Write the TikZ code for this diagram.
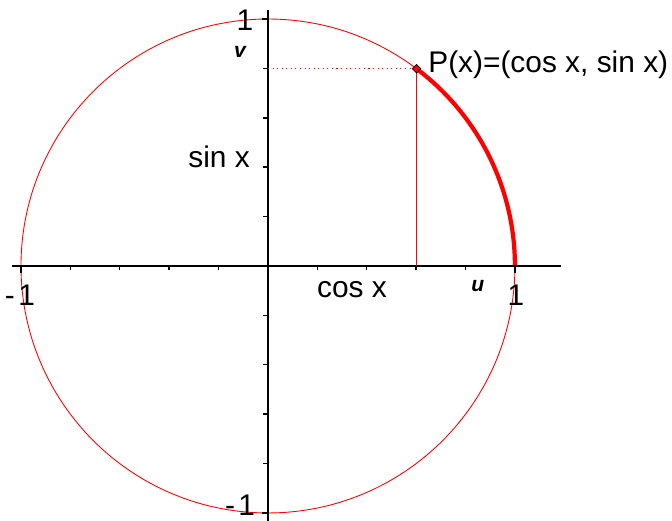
\documentclass[tikz,border=0pt]{standalone}
\usepackage{fontspec}
\setmainfont{Liberation Sans}
\usetikzlibrary{shapes.geometric}
\tikzset{
  lbl/.style={anchor=base, inner sep=0pt, font=\fontsize{17}{20}\selectfont},
  axlbl/.style={anchor=base, inner sep=0pt, font=\fontsize{12}{14}\selectfont\bfseries\itshape},
  pmark/.style={diamond, draw=black, fill=red, line width=0.4pt, inner sep=0pt, minimum size=5pt}
}
\begin{document}
\begin{tikzpicture}[x=4.94cm, y=4.94cm]
        \useasboundingbox (-1.085,-1.032) rectangle (1.636,1.077);

        % Coordinates
        \coordinate (O) at (0,0);
        \coordinate (P) at (53:1);
        \coordinate (Px) at (P |- O);
        \coordinate (Py) at (P -| O);
        \coordinate (XL) at (-1.036,0);
        \coordinate (XR) at (1.186,0);
        \coordinate (YT) at (0,1.036);
        \coordinate (YB) at (0,-1.032);

        % Drawing
        \draw[red, line width=0.5pt] (O) circle (1);
        \draw[red, line width=2.4pt] (1,0) arc (0:53:1);
        \draw[line width=0.8pt] (XL) -- (XR);
        \draw[line width=0.8pt] (YT) -- (YB);
        \foreach \i in {-4,...,4} {
            \draw[line width=0.8pt] (\i*0.2,0) -- (\i*0.2,-0.016);
            \draw[line width=0.8pt] (0,\i*0.2) -- (-0.02,\i*0.2);
        }
        \draw[line width=0.8pt] (-1,0) -- (-1,-0.03);
        \draw[line width=0.8pt] (1,0) -- (1,-0.03);
        \draw[line width=0.8pt] (0,1) -- (-0.025,1);
        \draw[line width=0.8pt] (0,-1) -- (-0.025,-1);
        \draw[red, dotted, line width=0.6pt] (Py) -- (P);
        \draw[red, line width=0.5pt] (P) -- (Px);
        \node[pmark] (mark) at (P) {};

        \node[lbl] (ytop) at (-0.093,0.955) {1};
        \node[lbl] (ybot) at (-0.113,-1.012) {-\hspace{2pt}1};
        \node[lbl] (xleft) at (-1.004,-0.158) {-\hspace{2pt}1};
        \node[lbl] (xright) at (1.004,-0.158) {1};
        \node[lbl] (sinlbl) at (-0.198,0.397) {sin x};
        \node[lbl] (coslbl) at (0.34,-0.126) {cos x};
        \node[axlbl] (ulbl) at (0.85,-0.105) {u};
        \node[axlbl] (vlbl) at (-0.113,0.846) {v};
        \node[lbl, anchor=base west] (plbl) at (0.648,0.785) {P(x)=(cos x, sin x)};
\end{tikzpicture}
\end{document}
